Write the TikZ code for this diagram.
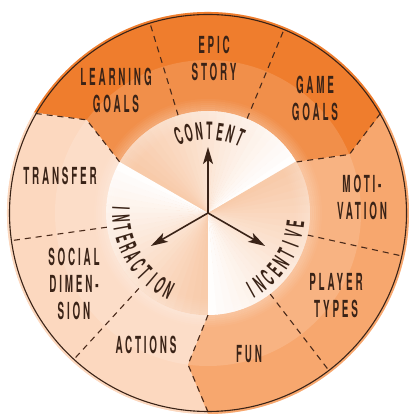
\documentclass[tikz,border=0pt]{standalone}
\usepackage{fontspec}
\usetikzlibrary{arrows.meta}
\newfontfamily\deco[FakeStretch=0.42,LetterSpace=12]{TeX Gyre Heros}
\newfontfamily\decoc[FakeStretch=0.42]{TeX Gyre Heros}
\definecolor{darkor}{HTML}{EF7D2D}
\definecolor{midor}{HTML}{F7A76E}
\definecolor{lightor}{HTML}{FCD8BF}
\definecolor{innerpeach}{HTML}{F6BA8F}
\definecolor{ink}{HTML}{3A2317}
\definecolor{dashc}{HTML}{4A2A1A}
\tikzset{
 lbl/.style={font=\deco\bfseries\fontsize{23.5}{27}\selectfont, text=ink, align=center, inner sep=0pt},
 curv/.style={font=\decoc\bfseries\fontsize{24}{27}\selectfont, text=ink, inner sep=0pt},
 sep/.style={draw=dashc, line width=1.1pt, dash pattern=on 6pt off 5pt},
 arr/.style={draw=ink, line width=1.6pt, -{Stealth[length=17pt,width=10pt,inset=4pt]}},
}
\begin{document}
\begin{tikzpicture}[x=1pt,y=1pt]
\useasboundingbox (0,0) rectangle (408,414);
\fill[white] (0,0) rectangle (408,414);
\begin{scope}[shift={(208,201)}]
 \coordinate (O) at (0,0);
 \fill[lightor] (O) circle[radius=201];
 \foreach \a/\b/\c in {30/150/darkor, 150/270/lightor, -90/30/midor} {
   \fill[\c] (\a:201) arc[start angle=\a, end angle=\b, radius=201] -- ({\b-7.5}:153) -- (\b:102) arc[start angle=\b, end angle=\a, radius=102] -- ({\a-7.5}:153) -- cycle;
 }
 % lighter inner band
 \fill[white, opacity=0.14, even odd rule] (O) circle[radius=153] (O) circle[radius=102];
 % glow around inner disc
 \foreach \k in {0,...,5} {
   \draw[white, opacity={0.22*(1-\k/6)}, line width=2pt] (O) circle[radius={103+2*\k}];
 }
 % separators
 \foreach \t in {107,67.5,-12.5,-52.5,188,227.5} \draw[sep] (\t:102) -- (\t:199);
 \foreach \t in {30,150,270} \draw[sep] (\t:199) -- ({\t-7.5}:153) -- (\t:102);
 % outer rim
 \draw[ink, line width=1.1pt] (O) circle[radius=198.5];
 % inner disc with angular shading
 \foreach \s in {30,150,270} {
   \foreach \k in {0,...,23} {
     \pgfmathsetmacro\p{2+\k*3.2}
     \fill[innerpeach!\p!white] (O) -- ({\s+\k*5}:102) arc[start angle={\s+\k*5}, delta angle=5.4, radius=102] -- cycle;
   }
 }
 % whiter rim of inner disc
 \foreach \k in {0,...,7} {
   \draw[white, opacity={0.18*(1-\k/8)}, line width=2pt] (O) circle[radius={101-2*\k}];
 }
 % labels
 \node[lbl] (lg) at (-92,123) {LEARNING\\GOALS};
 \node[lbl] (es) at (6,155) {EPIC\\STORY};
 \node[lbl] (gg) at (107,115) {GAME\\GOALS};
 \node[lbl] (mo) at (154,16) {MOTI-\\VATION};
 \node[lbl] (tr) at (-148,37) {TRANSFER};
 \node[lbl] (sd) at (-134,-71) {SOCIAL\\DIMEN-\\SION};
 \node[lbl] (ac) at (-62,-132) {ACTIONS};
 \node[lbl] (fu) at (41,-141) {FUN};
 \node[lbl] (pt) at (128,-83) {PLAYER\\TYPES};
 % curved words
 \foreach \ch [count=\i] in {C,O,N,T,E,N,T} {
   \pgfmathsetmacro\ang{111-(\i-1)*7.333}
   \node[curv, rotate=\ang-90] (ct\i) at (\ang:82) {\ch};
 }
 \foreach \ch [count=\i] in {I,N,T,E,R,A,C,T,I,O,N} {
   \pgfmathsetmacro\ang{177+(\i-1)*6.6}
   \node[curv, rotate=\ang+90] (ia\i) at (\ang:87) {\ch};
 }
 \foreach \ch [count=\i] in {I,N,C,E,N,T,I,V,E} {
   \pgfmathsetmacro\ang{299+(\i-1)*6.75}
   \node[curv, rotate=\ang+90] (ic\i) at (\ang:88) {\ch};
 }
 % arrows
 \coordinate (tC) at (90:66);
 \coordinate (tI) at (210:66);
 \coordinate (tN) at (330:66);
 \draw[arr] (O) -- (tC);
 \draw[arr] (O) -- (tI);
 \draw[arr] (O) -- (tN);
\end{scope}
\end{tikzpicture}
\end{document}
